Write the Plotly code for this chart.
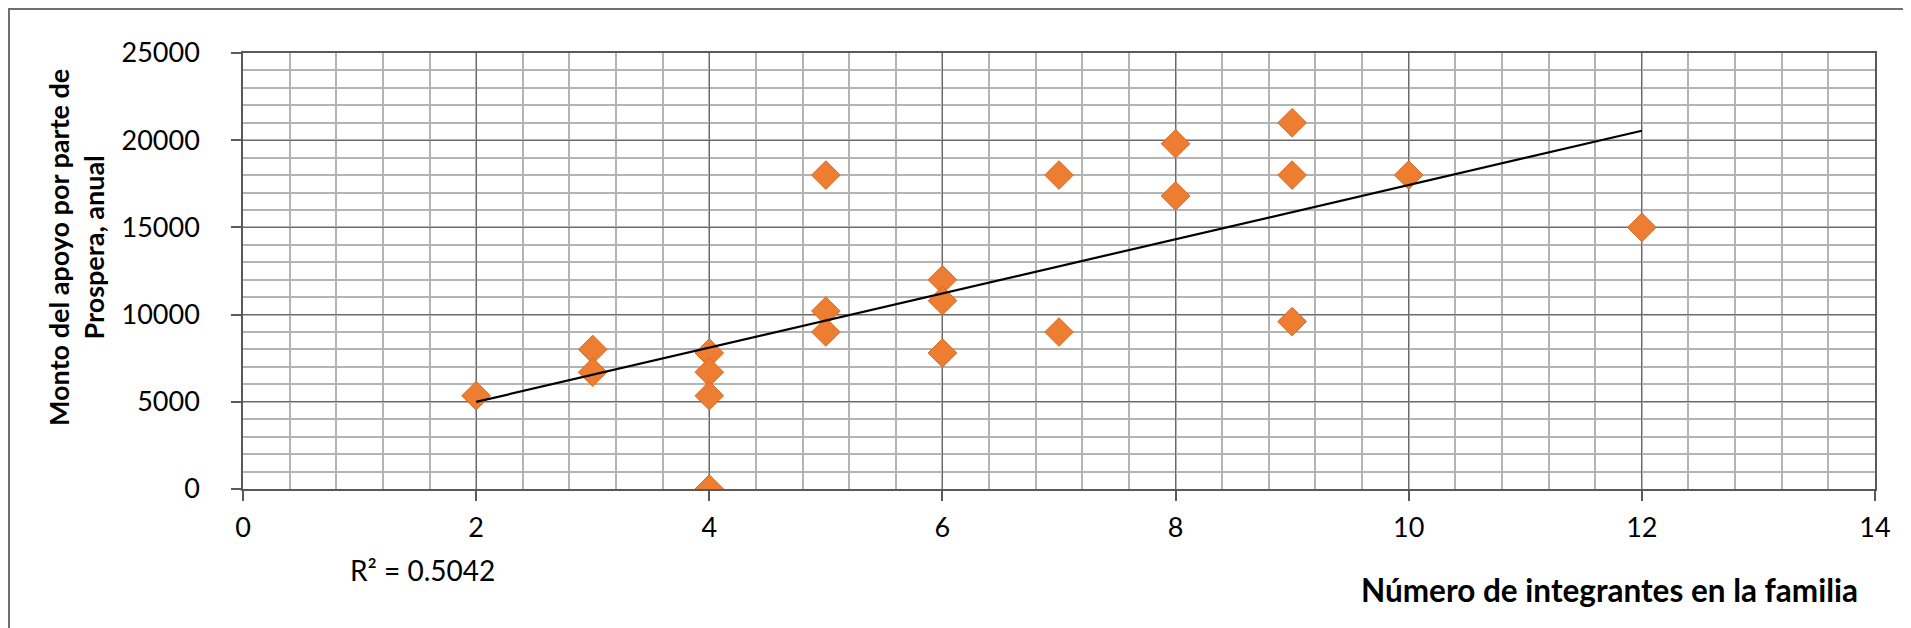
import numpy as np
import plotly.graph_objects as go

# Número de integrantes vs monto anual de Prospera
integrantes = [2, 3, 3, 4, 4, 4, 4, 5, 5, 5, 6, 6, 6, 7, 7, 8, 8, 9, 9, 9, 10, 12]
monto = [5350, 8000, 6700, 7800, 6700, 5350, 0, 18000, 10200, 9000,
         12000, 10800, 7800, 18000, 9000, 19800, 16800, 21000, 18000, 9600,
         18000, 15000]

x_ticks = [0, 2, 4, 6, 8, 10, 12, 14]
y_ticks = [0, 5000, 10000, 15000, 20000, 25000]
r2_text = "R² = 0.5042"

W, H = 1911, 628
L, R, T, B = 235, 44, 45, 147
FONT = "Lato, Carlito, Calibri, sans-serif"

# linear trendline
slope, intercept = np.polyfit(integrantes, monto, 1)
tx = [min(integrantes), max(integrantes)]
ty = [intercept + slope * v for v in tx]

fig = go.Figure()

fig.add_trace(go.Scatter(
    x=integrantes, y=monto,
    mode="markers",
    marker=dict(symbol="diamond", size=22, color="#ED7D31",
                line=dict(color="#D8691F", width=1)),
    showlegend=False
))

fig.add_trace(go.Scatter(
    x=tx, y=ty,
    mode="lines",
    line=dict(color="black", width=2.2),
    showlegend=False
))

axis_common = dict(
    showline=True, linecolor="#595959", linewidth=1.5, mirror=True,
    showgrid=True, gridcolor="#6a6a6a", gridwidth=1,
    ticks="outside", ticklen=10, tickcolor="#595959", tickwidth=1.5,
    tickfont=dict(family=FONT, size=27, color="black"),
    zeroline=False,
)

fig.update_xaxes(
    range=[0, 14], tickvals=x_ticks, ticktext=[str(v) for v in x_ticks],
    minor=dict(dtick=0.4, tick0=0, showgrid=True, gridcolor="#b4b4b4", gridwidth=1.5),
    ticklabelstandoff=4,
    **axis_common
)

fig.update_yaxes(
    range=[0, 25000], tickvals=y_ticks, ticktext=[str(v) for v in y_ticks],
    minor=dict(dtick=1000, tick0=0, showgrid=True, gridcolor="#b4b4b4", gridwidth=1.5),
    ticklabelstandoff=26,
    **axis_common
)

pw = W - L - R
ph = H - T - B


def px_x(p):
    return (p - L) / pw


def px_y(p):
    return (H - B - p) / ph


# y title (sits a bit above the plot centre, as in the original)
fig.add_annotation(
    x=px_x(68), y=px_y(240), xref="paper", yref="paper",
    text="<b>Monto del apoyo por parte de<br>Prospera, anual</b>", showarrow=False,
    textangle=-90, xanchor="center", yanchor="middle",
    font=dict(family=FONT, size=27, color="black")
)

fig.add_annotation(
    x=px_x(1852), y=px_y(582), xref="paper", yref="paper",
    text="<b>Número de integrantes en la familia</b>", showarrow=False,
    xanchor="right", yanchor="middle",
    font=dict(family=FONT, size=31.5, color="black")
)

fig.add_annotation(
    x=px_x(340), y=px_y(562), xref="paper", yref="paper",
    text=r2_text, showarrow=False, xanchor="left", yanchor="middle",
    font=dict(family=FONT, size=28, color="black")
)

# outer frame of the picture
fig.add_shape(
    type="rect", xref="paper", yref="paper",
    x0=px_x(1), x1=px_x(W - 1),
    y0=px_y(H - 1), y1=px_y(1),
    line=dict(color="#707070", width=2), layer="below"
)

fig.update_layout(
    width=W, height=H,
    margin=dict(l=L, r=R, t=T, b=B),
    plot_bgcolor="white", paper_bgcolor="white",
    font=dict(family=FONT, color="black"),
)

fig.write_html("out.html")
